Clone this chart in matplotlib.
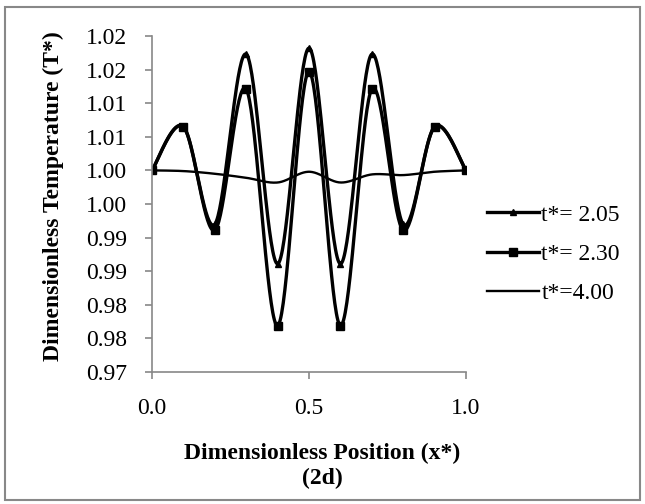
import numpy as np
import matplotlib
matplotlib.use('Agg')
import matplotlib.pyplot as plt
from matplotlib.lines import Line2D
from matplotlib.patches import Rectangle

plt.rcParams['font.family'] = ['Liberation Serif', 'DejaVu Serif']

# Data
x_pos = [0.0, 0.1, 0.2, 0.3, 0.4, 0.5, 0.6, 0.7, 0.8, 0.9, 1.0]
temp_205 = [1.0000, 1.0065, 0.9920, 1.0173, 0.9861, 1.0182, 0.9861, 1.0173, 0.9920, 1.0065, 1.0000]
temp_230 = [1.0000, 1.0065, 0.9911, 1.0121, 0.9769, 1.0147, 0.9769, 1.0121, 0.9911, 1.0065, 1.0000]
temp_400 = [1.0000, 0.9999, 0.9995, 0.9989, 0.9982, 0.9998, 0.9982, 0.9994, 0.9993, 0.9998, 1.0000]
series_labels = ['t*= 2.05', 't*= 2.30', 't*=4.00']

x_ticks = [0.0, 0.5, 1.0]
x_tick_labels = ['0.0', '0.5', '1.0']
y_ticks = [0.970, 0.975, 0.980, 0.985, 0.990, 0.995, 1.000, 1.005, 1.010, 1.015, 1.020]
y_tick_labels = ['0.97', '0.98', '0.98', '0.99', '0.99', '1.00', '1.00', '1.01', '1.01', '1.02', '1.02']

FS = 17
GRAY = '#888888'


def excel_smooth(x, y, n=40):
    # Excel-style smoothed line: cubic bezier with control points at 1/6 of neighbour span
    x = np.asarray(x, float)
    y = np.asarray(y, float)
    px = np.concatenate([[x[0]], x, [x[-1]]])
    py = np.concatenate([[y[0]], y, [y[-1]]])
    t = np.linspace(0, 1, n)
    xs, ys = [], []
    for i in range(len(x) - 1):
        p0 = np.array([px[i], py[i]])
        p1 = np.array([px[i + 1], py[i + 1]])
        p2 = np.array([px[i + 2], py[i + 2]])
        p3 = np.array([px[i + 3], py[i + 3]])
        c1 = p1 + (p2 - p0) / 6
        c2 = p2 - (p3 - p1) / 6
        b = ((1 - t) ** 3)[:, None] * p1 + (3 * (1 - t) ** 2 * t)[:, None] * c1 \
            + (3 * (1 - t) * t ** 2)[:, None] * c2 + (t ** 3)[:, None] * p2
        xs.append(b[:, 0])
        ys.append(b[:, 1])
    return np.concatenate(xs), np.concatenate(ys)


fig = plt.figure(figsize=(6.45, 5.04), dpi=100)
ax = fig.add_axes([152 / 645, 1 - 372 / 504, 314 / 645, 336 / 504])

# t* = 4.00 (thin, no markers)
sx, sy = excel_smooth(x_pos, temp_400)
ax.plot(sx, sy, color='black', lw=1.7, solid_capstyle='round')

# t* = 2.30 (squares)
sx, sy = excel_smooth(x_pos, temp_230)
ax.plot(sx, sy, color='black', lw=2.4, solid_capstyle='round')
ax.plot(x_pos, temp_230, ls='none', marker='s', ms=5.5, color='black')

# t* = 2.05 (triangles)
sx, sy = excel_smooth(x_pos, temp_205)
ax.plot(sx, sy, color='black', lw=2.4, solid_capstyle='round')
ax.plot(x_pos, temp_205, ls='none', marker='^', ms=5, color='black')

ax.set_xlim(0, 1)
ax.set_ylim(0.970, 1.020)
ax.set_xticks(x_ticks)
ax.set_xticklabels(x_tick_labels)
ax.set_yticks(y_ticks)
ax.set_yticklabels(y_tick_labels)

for s in ['top', 'right']:
    ax.spines[s].set_visible(False)
for s in ['left', 'bottom']:
    ax.spines[s].set_color(GRAY)
    ax.spines[s].set_linewidth(1.2)
ax.tick_params(axis='both', direction='out', length=5, width=1.2, color=GRAY,
               labelsize=FS, labelcolor='black')
ax.tick_params(axis='x', pad=14)
ax.tick_params(axis='y', pad=13)

# axis titles
fig.text(53 / 645, 1 - 196 / 504, 'Dimensionless Temperature (T*)', rotation=90,
         ha='center', va='center', fontsize=FS, fontweight='bold')
fig.text(322 / 645, 1 - 466 / 504, 'Dimensionless Position (x*)\n(2d)',
         ha='center', va='center', fontsize=FS, fontweight='bold', linespacing=1.2)

# legend
handles = [
    Line2D([], [], color='black', lw=2.4, marker='^', ms=5),
    Line2D([], [], color='black', lw=2.4, marker='s', ms=5.5),
    Line2D([], [], color='black', lw=1.7),
]
fig.legend(handles, series_labels, loc='upper left',
           bbox_to_anchor=(487 / 645, 1 - 204 / 504), bbox_transform=fig.transFigure,
           frameon=False, fontsize=FS, handlelength=2.2, handletextpad=0.1,
           labelspacing=0.75, borderpad=0, borderaxespad=0, numpoints=1)

# chart area border
fig.patches.append(Rectangle((5 / 645, 4 / 504), 635 / 645, 493 / 504,
                             transform=fig.transFigure, fill=False,
                             edgecolor=GRAY, lw=1.5))

fig.savefig('out.png', dpi=100)
